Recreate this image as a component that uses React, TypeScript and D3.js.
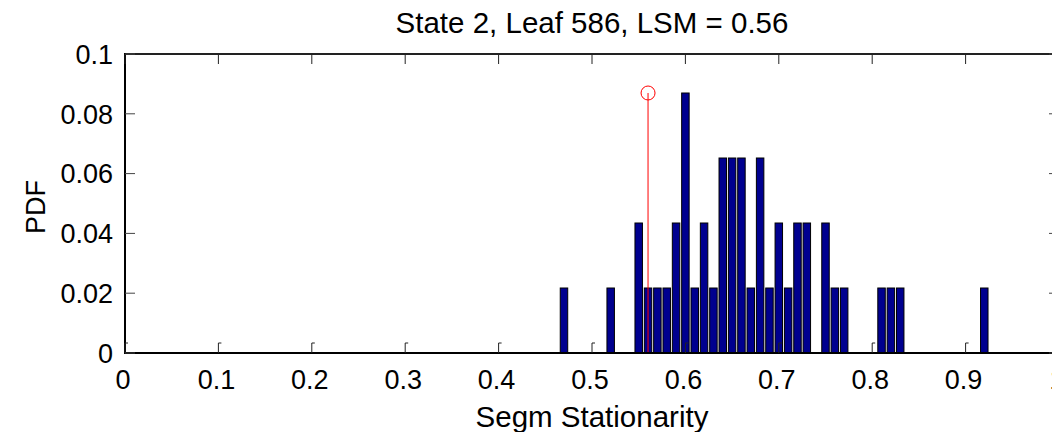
import React from "react";
import * as d3 from "d3";

// ---- data ----
const binCenters = [0.47, 0.52, 0.55, 0.56, 0.57, 0.58, 0.59, 0.6, 0.61, 0.62, 0.63, 0.64, 0.65, 0.66, 0.67, 0.68, 0.69, 0.7, 0.71, 0.72, 0.73, 0.75, 0.76, 0.77, 0.81, 0.82, 0.83, 0.92];
const binCounts = [1, 1, 2, 1, 1, 1, 2, 4, 1, 2, 1, 3, 3, 3, 1, 3, 1, 2, 1, 2, 2, 2, 1, 1, 1, 1, 1, 1];
const lsmValue = 0.56;
const xTickValues = [0, 0.1, 0.2, 0.3, 0.4, 0.5, 0.6, 0.7, 0.8, 0.9, 1];
const xTickLabels = ["0", "0.1", "0.2", "0.3", "0.4", "0.5", "0.6", "0.7", "0.8", "0.9", "1"];
const yTickValues = [0, 0.02, 0.04, 0.06, 0.08, 0.1];
const yTickLabels = ["0", "0.02", "0.04", "0.06", "0.08", "0.1"];
const titleText = "State 2, Leaf 586, LSM = 0.56";
const xLabelText = "Segm Stationarity";
const yLabelText = "PDF";

const W = 1052;
const H = 432;
const FONT = "'Liberation Sans', Arial, Helvetica, sans-serif";

export default function App() {
  const total = d3.sum(binCounts);
  const pdf = binCounts.map((c) => c / total);
  const maxPdf = d3.max(pdf) as number;

  const x = d3.scaleLinear().domain([0, 1]).range([125, 1059]);
  const y = d3.scaleLinear().domain([0, 0.1]).range([353, 54]);
  const binW = 0.01;
  const barW = binW * 0.8;

  const x0 = x(0), x1 = x(1), y0 = y(0), y1 = y(0.1);
  const tickLen = 10;
  const axisColor = "#000";

  return (
    <svg
      width={W}
      height={H}
      style={{ position: "absolute", left: 0, top: 0, background: "#fff", overflow: "hidden" }}
      fontFamily={FONT}
    >
      <rect x={0} y={0} width={W} height={H} fill="#fff" />

      {/* bars */}
      {binCenters.map((c, i) => (
        <rect
          key={i}
          x={x(c - barW / 2)}
          y={y(pdf[i])}
          width={x(c + barW / 2) - x(c - barW / 2)}
          height={y(0) - y(pdf[i])}
          fill="#00008F"
          stroke="#000"
          strokeWidth={1}
        />
      ))}

      {/* LSM stem */}
      <line x1={x(lsmValue)} x2={x(lsmValue)} y1={y(0)} y2={y(maxPdf)} stroke="#ff0000" strokeWidth={1} />
      <circle cx={x(lsmValue)} cy={y(maxPdf)} r={7} fill="none" stroke="#ff0000" strokeWidth={1} />

      {/* axes box (right edge lies beyond the visible area) */}
      <line x1={x0} x2={x1} y1={y0} y2={y0} stroke={axisColor} strokeWidth={2} />
      <line x1={x0} x2={x1} y1={y1} y2={y1} stroke="#222" strokeWidth={2} />
      <line x1={x0} x2={x0} y1={y1 - 1} y2={y0 + 1} stroke={axisColor} strokeWidth={2} />

      {/* x ticks (bottom & top) */}
      {xTickValues.map((v, i) => (
        <g key={"xt" + i}>
          <path d={`M${x(v)},${y0} V${y0 - tickLen} h3`} fill="none" stroke="#222" strokeWidth={1} />
          <path d={`M${x(v)},${y1} V${y1 + tickLen}`} fill="none" stroke="#222" strokeWidth={1} />
          <text x={x(v) - 2} y={389} textAnchor="middle" fontSize={27} fill="#000">
            {xTickLabels[i]}
          </text>
        </g>
      ))}

      {/* y ticks (left & right) */}
      {yTickValues.map((v, i) => (
        <g key={"yt" + i}>
          <path d={`M${x0},${y(v)} H${x0 + tickLen}`} fill="none" stroke="#444" strokeWidth={1} />
          <path d={`M${x1},${y(v)} H${x1 - tickLen}`} fill="none" stroke="#444" strokeWidth={1} />
          <text x={113} y={y(v)} dy="0.36em" textAnchor="end" fontSize={27} fill="#000">
            {yTickLabels[i]}
          </text>
        </g>
      ))}

      {/* title and labels */}
      <text x={(x0 + x1) / 2} y={33} textAnchor="middle" fontSize={29.5} fill="#000">
        {titleText}
      </text>
      <text x={(x0 + x1) / 2} y={427} textAnchor="middle" fontSize={29.5} fill="#000">
        {xLabelText}
      </text>
      <text
        transform={`translate(45, 207) rotate(-90)`}
        textAnchor="middle"
        fontSize={27}
        fill="#000"
      >
        {yLabelText}
      </text>
    </svg>
  );
}
